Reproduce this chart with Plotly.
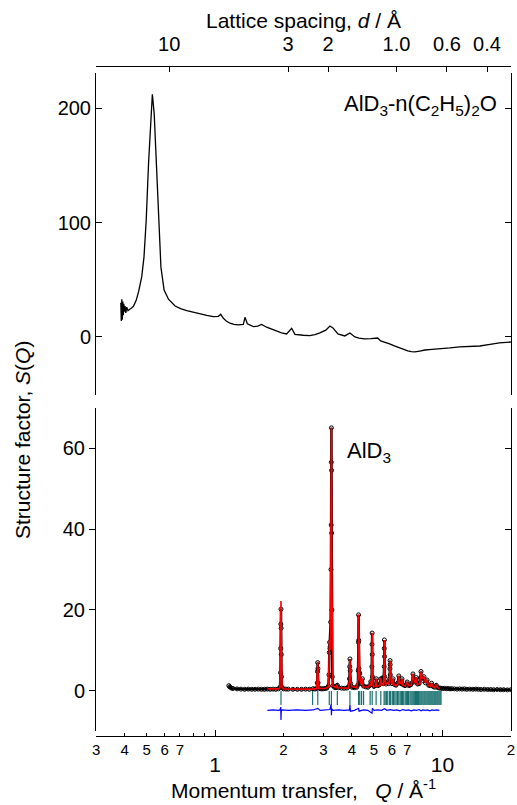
import math
import plotly.graph_objects as go

# ---------------- data ----------------
# Top panel: AlD3-etherate S(Q)
q_top = [0.385, 0.387, 0.389, 0.391, 0.393, 0.395, 0.397, 0.399, 0.402, 0.405,
         0.409, 0.414, 0.420, 0.428, 0.438, 0.450, 0.461, 0.476, 0.487, 0.498,
         0.510, 0.522, 0.530, 0.540, 0.551, 0.564, 0.578, 0.597, 0.624, 0.667,
         0.71, 0.751, 0.80, 0.859, 0.92, 0.983, 1.034, 1.059, 1.088, 1.12,
         1.164, 1.21, 1.266, 1.332, 1.354, 1.387, 1.43, 1.473, 1.54, 1.603,
         1.686, 1.78, 1.867, 1.96, 2.064, 2.172, 2.246, 2.34, 2.443, 2.61,
         2.75, 2.89, 3.07, 3.2, 3.3, 3.47, 3.6, 3.72, 3.92, 4.12,
         4.3, 4.55, 4.85, 5.19, 5.35, 5.6, 5.86, 6.15, 6.48, 6.75,
         7.04, 7.3, 7.56, 7.95, 8.37, 9.0, 9.73, 10.8, 11.9, 13.2,
         14.6, 16.2, 17.8, 20.0]
s_top = [30, 14, 33, 15, 31, 19, 29, 22, 27, 21,
         26, 23, 24, 25, 27, 32, 39.6, 52.7, 70, 102,
         151.7, 195, 212, 195, 152, 99, 61, 41, 33, 27,
         24.5, 23, 21.5, 20, 18.8, 17.7, 18, 19.8, 16.3, 14,
         12, 11, 10.5, 11, 17.2, 11.5, 10, 9, 9.5, 11,
         8.5, 6.5, 4.7, 3.5, 2.6, 7.6, 2.3, 1.8, 1.5, 1.2,
         2, 3.5, 6, 9.6, 7.9, 2.6, 1.5, 0.9, 3.5, 0,
         -1, -1.7, -1.5, -0.9, -3.5, -4.5, -6.1, -7.8, -9.6, -11,
         -12.2, -12.8, -13.1, -12.3, -11.4, -10.8, -10.5, -9.6, -8.7, -8.3,
         -7.9, -6.5, -5.2, -4.4]

# Bottom panel: AlD3 observed data
q_obs = [1.15, 1.16, 1.18, 1.20, 1.25, 1.30, 1.35, 1.40, 1.45, 1.50, 1.55, 1.60, 1.65, 1.70, 1.75, 1.80, 1.85, 1.90, 1.93,
         1.940, 1.944, 1.947, 1.950, 1.953, 1.956, 1.960, 1.97,
         2.00, 2.05, 2.10, 2.20, 2.30, 2.40, 2.50, 2.60, 2.70, 2.75, 2.80,
         2.815, 2.822, 2.828, 2.834, 2.840, 2.85,
         2.90, 2.95, 3.00, 3.05, 3.10, 3.15,
         3.17, 3.18, 3.19, 3.20, 3.21, 3.225, 3.235, 3.242, 3.246, 3.250, 3.254, 3.258, 3.265, 3.28,
         3.30, 3.35, 3.40, 3.45, 3.50, 3.60, 3.70, 3.80, 3.86,
         3.90, 3.91, 3.92, 3.93, 3.95, 4.00,
         4.10, 4.20, 4.25,
         4.265, 4.272, 4.278, 4.285, 4.292, 4.31, 4.33, 4.36,
         4.40, 4.45, 4.50, 4.60, 4.70, 4.78, 4.84, 4.88,
         4.895, 4.902, 4.908, 4.915, 4.925, 4.95,
         5.00, 5.05, 5.12, 5.20, 5.28, 5.36, 5.45, 5.50,
         5.545, 5.552, 5.558, 5.565, 5.575, 5.60, 5.65, 5.72, 5.80, 5.86,
         5.878, 5.886, 5.894, 5.905, 5.93, 6.00, 6.07, 6.15, 6.25, 6.35,
         6.43, 6.50, 6.58, 6.64, 6.72, 6.85, 7.00, 7.12, 7.25, 7.35,
         7.42, 7.50, 7.60, 7.67, 7.78, 7.90, 8.00, 8.05, 8.12, 8.20,
         8.30, 8.42, 8.57, 8.70, 8.85, 8.96, 9.10, 9.25, 9.40, 9.55, 9.70,
         9.85, 10.0, 10.2, 10.4, 10.6, 10.8, 11.0, 11.3, 11.6, 11.9,
         12.2, 12.5, 12.8, 13.2, 13.6, 14.0, 14.4, 14.8, 15.3, 15.8,
         16.3, 16.8, 17.4, 18.0, 18.6, 19.3, 20.0]
s_obs = [1.3, 1.0, 0.7, 0.6, 0.5, 0.45, 0.4, 0.45, 0.4, 0.4, 0.45, 0.4, 0.4, 0.45, 0.4, 0.45, 0.4, 0.5, 0.9,
         4.5, 10.5, 16.5, 20.2, 15.5, 9.0, 3.5, 0.9,
         0.5, 0.45, 0.45, 0.4, 0.4, 0.4, 0.45, 0.4, 0.55, 0.45, 0.6,
         2.0, 4.8, 7.0, 5.5, 2.0, 0.8,
         0.55, 0.5, 0.55, 0.6, 0.7, 1.2,
         4.0, 9.5, 12.0, 10.5, 11.0, 17.0, 30.0, 41.0, 56.5, 65.0, 54.5, 39.0, 20.0, 3.5,
         1.3, 0.9, 0.8, 1.4, 0.8, 0.7, 0.65, 0.7, 1.0,
         3.0, 6.0, 7.9, 5.0, 1.8, 0.9,
         0.8, 0.9, 1.5,
         5.0, 12.0, 18.8, 12.5, 5.5, 4.2, 4.4, 2.2,
         1.8, 3.0, 1.2, 1.0, 0.9, 1.3, 2.3, 1.6,
         6.0, 11.5, 14.3, 9.0, 3.5, 1.5,
         1.1, 1.3, 3.0, 1.3, 1.5, 3.0, 3.2, 1.8,
         6.0, 10.5, 12.6, 8.5, 3.5, 2.2, 1.7, 2.2, 1.8, 3.0,
         5.5, 7.5, 6.5, 4.0, 2.3, 1.8, 3.0, 1.6, 1.4, 1.9,
         3.7, 2.0, 1.8, 3.0, 1.5, 1.3, 2.2, 1.3, 1.5, 2.0,
         4.2, 2.6, 2.2, 3.3, 1.7, 1.8, 3.2, 4.8, 3.3, 2.6,
         3.5, 2.0, 2.7, 1.4, 1.3, 1.9, 1.1, 0.9, 1.4, 0.8, 0.7,
         0.7, 0.6, 0.65, 0.55, 0.6, 0.5, 0.55, 0.5, 0.45, 0.5,
         0.45, 0.5, 0.4, 0.45, 0.4, 0.45, 0.4, 0.35, 0.4, 0.35,
         0.35, 0.3, 0.35, 0.3, 0.3, 0.25, 0.3]

# Bottom panel: calculated (Rietveld) profile
q_calc = [1.70, 1.80, 1.90, 1.93, 1.94, 1.95, 1.96, 1.97, 2.00, 2.20,
          2.50, 2.70, 2.80, 2.82, 2.83, 2.84, 2.86, 3.05, 3.15, 3.17,
          3.185, 3.20, 3.22, 3.24, 3.25, 3.26, 3.28, 3.30, 3.40, 3.44,
          3.46, 3.85, 3.90, 3.92, 3.94, 4.00, 4.20, 4.26, 4.28, 4.30,
          4.33, 4.36, 4.42, 4.45, 4.48, 4.70, 4.80, 4.84, 4.87, 4.89,
          4.91, 4.93, 4.97, 5.08, 5.12, 5.16, 5.30, 5.36, 5.42, 5.52,
          5.54, 5.56, 5.58, 5.62, 5.68, 5.75, 5.80, 5.86, 5.89, 5.92,
          5.96, 6.02, 6.07, 6.12, 6.25, 6.38, 6.43, 6.50, 6.58, 6.64,
          6.70, 6.85, 7.00, 7.10, 7.30, 7.42, 7.50, 7.60, 7.67, 7.75,
          7.95, 8.05, 8.15, 8.30, 8.42, 8.57, 8.70, 8.85, 8.96, 9.10,
          9.25, 9.40, 9.55, 9.70]
s_calc = [0.5, 0.5, 0.5, 0.8, 8, 22.2, 8, 0.8, 0.5, 0.45,
          0.45, 0.45, 0.6, 3.5, 7.2, 3.5, 0.6, 0.6, 1.0, 6,
          12.6, 10, 14, 45, 65.1, 30, 2.5, 1.2, 0.8, 1.5,
          0.8, 0.7, 2.5, 7.9, 2.5, 1.0, 0.8, 3, 18.9, 5,
          4, 2, 1.8, 3.0, 1.0, 0.9, 1.5, 2.3, 1.2, 4,
          14.4, 3, 1.0, 1.2, 3.0, 1.2, 1.3, 3.2, 1.5, 1.5,
          5, 12.6, 4, 2, 1.6, 2.2, 1.7, 3, 7.4, 4,
          2, 1.8, 3.0, 1.5, 1.3, 1.8, 3.7, 2.0, 1.8, 3.0,
          1.4, 1.2, 2.2, 1.3, 1.4, 4.2, 2.6, 2.0, 3.3, 1.6,
          1.8, 4.8, 3.0, 3.5, 2.0, 2.7, 1.3, 1.2, 1.9, 1.0,
          0.9, 1.4, 0.8, 0.6]

# Difference curve (obs - calc, offset)
q_diff = [1.70, 1.80, 1.90, 1.93, 1.945, 1.95, 1.955, 1.97, 2.10, 2.30,
          2.50, 2.70, 2.83, 2.90, 3.10, 3.20, 3.24, 3.25, 3.26, 3.30,
          3.50, 3.70, 3.90, 3.92, 3.94, 4.10, 4.28, 4.30, 4.50, 4.70,
          4.90, 4.92, 5.00, 5.20, 5.40, 5.56, 5.70, 5.90, 6.10, 6.30,
          6.50, 6.70, 6.90, 7.10, 7.30, 7.50, 7.70, 7.90, 8.05, 8.20,
          8.40, 8.60, 8.80, 9.00, 9.20, 9.40, 9.70]
s_diff = [-4.8, -4.7, -4.8, -4.7, -4.0, -7.2, -5.0, -4.7, -4.8, -4.7,
          -4.8, -4.7, -4.3, -4.8, -4.7, -4.6, -3.3, -6.0, -4.4, -4.8,
          -4.7, -4.8, -4.7, -3.5, -5.0, -4.8, -4.3, -5.0, -4.7, -4.8,
          -5.5, -4.3, -4.8, -4.7, -4.8, -4.4, -4.8, -4.6, -4.8, -4.7,
          -4.9, -4.6, -4.8, -4.7, -4.9, -4.7, -4.8, -4.6, -4.9, -4.7,
          -4.8, -4.7, -4.9, -4.7, -4.8, -4.7, -4.8]

# Bragg reflection positions
q_refl = [1.95, 2.685, 2.83, 3.18, 3.25, 3.45, 3.92, 4.28, 4.33, 4.41,
          4.50, 4.81, 4.91, 5.11, 5.36, 5.54, 5.60, 5.68, 5.75, 5.86,
          5.92, 6.02, 6.10, 6.18, 6.26, 6.35, 6.43, 6.52, 6.60, 6.68,
          6.76, 6.86, 6.94, 7.02, 7.10, 7.20, 7.28, 7.36, 7.44, 7.52,
          7.61, 7.70, 7.78, 7.86, 7.95, 8.04, 8.12, 8.21, 8.30, 8.38,
          8.47, 8.56, 8.65, 8.74, 8.83, 8.92, 9.01, 9.10, 9.20, 9.29,
          9.38, 9.48, 9.57, 9.67, 9.77, 9.86]
refl_level = -1.75

# Axis ticks
q_lab_vals = [0.3, 0.4, 0.5, 0.6, 0.7, 2, 3, 4, 5, 6, 7, 20]
q_lab_text = ["3", "4", "5", "6", "7", "2", "3", "4", "5", "6", "7", "2"]
q_nolab_vals = [0.8, 0.9, 8, 9]
q_major_vals = [1, 10]
q_major_text = ["1", "10"]
d_vals = [10, 3, 2, 1.0, 0.6, 0.4]
d_text = ["10", "3", "2", "1.0", "0.6", "0.4"]
top_y_ticks = [0, 100, 200]
bot_y_ticks = [0, 20, 40, 60]

assert len(q_top) == len(s_top)
assert len(q_obs) == len(s_obs)
assert len(q_calc) == len(s_calc)
assert len(q_diff) == len(s_diff)

# ---------------- figure ----------------
FONT = "Liberation Sans, Arial, sans-serif"
xr = [math.log10(0.2995), math.log10(20.03)]
H, MT, MB, ML, MR, W = 805, 66, 69, 96, 6, 517
PH = H - MT - MB
PW = W - ML - MR


def py(px):
    return (H - MB - px) / PH


def pxx(px):
    return (px - ML) / PW


fig = go.Figure()

fig.add_trace(go.Scatter(x=q_top, y=s_top, xaxis="x", yaxis="y2", mode="lines",
                         line=dict(color="black", width=1.3)))

fig.add_trace(go.Scatter(x=q_obs, y=s_obs, xaxis="x", yaxis="y", mode="lines+markers",
                         line=dict(color="black", width=2.5),
                         marker=dict(symbol="circle-open", size=4, color="black",
                                     line=dict(width=1, color="black"))))
fig.add_trace(go.Scatter(x=q_calc, y=s_calc, xaxis="x", yaxis="y", mode="lines",
                         line=dict(color="#ff0000", width=1.6)))
fig.add_trace(go.Scatter(x=q_refl, y=[refl_level] * len(q_refl), xaxis="x", yaxis="y",
                         mode="markers",
                         marker=dict(symbol="line-ns", size=10,
                                     line=dict(width=1.2, color="#17706f"))))
fig.add_trace(go.Scatter(x=q_diff, y=s_diff, xaxis="x", yaxis="y", mode="lines",
                         line=dict(color="#0000ff", width=1.2)))

# dummy traces so overlay axes are drawn
fig.add_trace(go.Scatter(x=[], y=[], xaxis="x2", yaxis="y2"))
fig.add_trace(go.Scatter(x=[], y=[], xaxis="x3", yaxis="y"))
fig.add_trace(go.Scatter(x=[], y=[], xaxis="x", yaxis="y4"))

axis_common = dict(showgrid=False, zeroline=False, linecolor="black", linewidth=1,
                   tickcolor="black", tickwidth=1, automargin=False)

fig.update_layout(
    width=W, height=H,
    margin=dict(l=ML, r=MR, t=MT, b=MB, pad=0, autoexpand=False),
    paper_bgcolor="white", plot_bgcolor="white",
    showlegend=False, hovermode=False,
    font=dict(family=FONT, size=20, color="black"),
    xaxis=dict(type="log", range=xr, domain=[0, 1], anchor="free", position=0,
               showline=True, ticks="inside", ticklen=3,
               tickvals=q_lab_vals, ticktext=q_lab_text,
               minor=dict(tickvals=q_nolab_vals, ticks="inside", ticklen=3,
                          tickcolor="black", tickwidth=1, showgrid=False),
               tickfont=dict(size=15), **axis_common),
    xaxis3=dict(type="log", range=xr, overlaying="x", anchor="free", position=0,
                showline=False, ticks="inside", ticklen=6,
                tickvals=q_major_vals, ticktext=q_major_text,
                tickfont=dict(size=21), ticklabelstandoff=14, **axis_common),
    xaxis2=dict(type="log", range=xr, overlaying="x", side="top", anchor="free", position=1,
                showline=True, ticks="inside", ticklen=5,
                tickvals=[2 * math.pi / d for d in d_vals], ticktext=d_text,
                tickfont=dict(size=20), ticklabelstandoff=7, **axis_common),
    yaxis=dict(domain=[py(731), py(408)], range=[-9.9, 69.9], anchor="x",
               showline=True, ticks="outside", ticklen=6,
               tickvals=bot_y_ticks, tickfont=dict(size=20), **axis_common),
    yaxis4=dict(overlaying="y", side="right", anchor="x", range=[-9.9, 69.9],
                showline=True, ticks="inside", ticklen=6, showticklabels=False,
                tickvals=bot_y_ticks, **axis_common),
    yaxis2=dict(domain=[py(395), py(73)], range=[-50.7, 230.6], anchor="x",
                showline=True, ticks="inside", ticklen=6, mirror="ticks",
                tickvals=top_y_ticks, tickfont=dict(size=20), **axis_common),
)

title_font = dict(family=FONT, size=21, color="black")
label_font = dict(family=FONT, size=22, color="black")
fig.add_annotation(text="Lattice spacing, <i>d</i> / Å", xref="paper", yref="paper",
                   x=pxx(303), y=py(20), xanchor="center", yanchor="middle",
                   showarrow=False, font=title_font)
fig.add_annotation(text="Momentum transfer,&nbsp;&nbsp; <i>Q</i> / Å<sup>-1</sup>",
                   xref="paper", yref="paper",
                   x=pxx(303), y=py(789), xanchor="center", yanchor="middle",
                   showarrow=False, font=title_font)
fig.add_annotation(text="Structure factor, <i>S</i>(<i>Q</i>)", xref="paper", yref="paper",
                   x=pxx(22), y=py(440), xanchor="center", yanchor="middle", textangle=-90,
                   showarrow=False, font=title_font)
fig.add_annotation(text="AlD<sub>3</sub>-n(C<sub>2</sub>H<sub>5</sub>)<sub>2</sub>O",
                   xref="paper", yref="paper", x=pxx(499), y=py(105),
                   xanchor="right", yanchor="middle", showarrow=False, font=label_font)
fig.add_annotation(text="AlD<sub>3</sub>", xref="paper", yref="paper",
                   x=pxx(345), y=py(452), xanchor="left", yanchor="middle",
                   showarrow=False, font=label_font)

fig.write_html("out.html", config={"displayModeBar": False},
               post_script="document.body.style.margin='0';document.body.style.overflow='hidden';")
